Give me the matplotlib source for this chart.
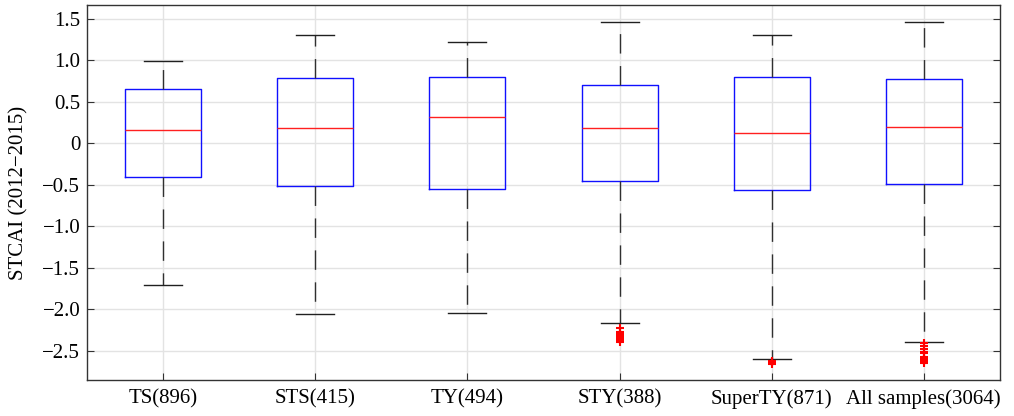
import matplotlib.pyplot as plt
import matplotlib as mpl

mpl.rcParams['font.family'] = ['Liberation Serif', 'DejaVu Serif']
mpl.rcParams['font.size'] = 15

labels = ['TS(896)', 'STS(415)', 'TY(494)', 'STY(388)', 'SuperTY(871)', 'All samples(3064)']
whislo = [-1.71, -2.06, -2.05, -2.17, -2.60, -2.39]
q1 = [-0.41, -0.51, -0.55, -0.45, -0.56, -0.49]
med = [0.16, 0.18, 0.31, 0.18, 0.12, 0.19]
q3 = [0.65, 0.78, 0.80, 0.70, 0.80, 0.77]
whishi = [0.99, 1.30, 1.22, 1.46, 1.30, 1.46]
fliers = [
    [],
    [],
    [],
    [-2.23, -2.27, -2.29, -2.31, -2.33, -2.35, -2.37, -2.40],
    [-2.62, -2.63, -2.64, -2.66],
    [-2.41, -2.44, -2.48, -2.51, -2.53, -2.57, -2.60, -2.62, -2.65],
]

stats = []
for i in range(len(labels)):
    stats.append(dict(label=labels[i], whislo=whislo[i], q1=q1[i], med=med[i],
                      q3=q3[i], whishi=whishi[i], fliers=fliers[i]))

fig = plt.figure(figsize=(10.14, 4.16), dpi=100)
ax = fig.add_axes([0.086, 0.087, 0.9, 0.9])

ax.bxp(stats, widths=0.5, showfliers=True,
       boxprops=dict(color='#1010ff', linewidth=1.0),
       medianprops=dict(color='#ff2020', linewidth=1.0),
       whiskerprops=dict(color='#303030', linewidth=1.0, linestyle=(0, (14, 9))),
       capprops=dict(color='#202020', linewidth=1.0),
       flierprops=dict(marker='+', markeredgecolor='red', markersize=6, markeredgewidth=1.5,
                       linestyle='none'))

ax.set_xlim(0.5, 6.5)
ax.set_ylim(-2.85, 1.66)
ax.set_yticks([1.5, 1.0, 0.5, 0, -0.5, -1.0, -1.5, -2.0, -2.5])
ax.set_yticklabels(['1.5', '1.0', '0.5', '0', '\u22120.5', '\u22121.0', '\u22121.5', '\u22122.0', '\u22122.5'])
ax.set_ylabel('STCAI (2012\u22122015)', labelpad=10)
ax.grid(True, color='#e3e3e3', linewidth=1.0)
ax.set_axisbelow(True)
ax.tick_params(direction='in', right=True, length=5, color='#333333')
ax.tick_params(axis='y', pad=5)
ax.tick_params(axis='x', length=5, pad=7)
for s in ax.spines.values():
    s.set_color('#333333')
    s.set_linewidth(1.0)

fig.savefig('out.png', dpi=100)
